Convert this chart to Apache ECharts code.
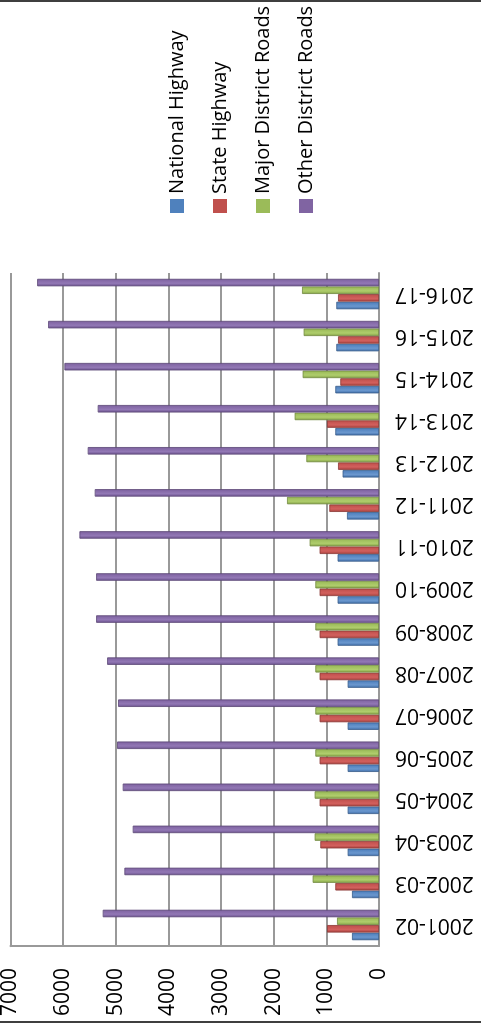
<!DOCTYPE html>
<html>
<head>
<meta charset="utf-8">
<title>Road length by category</title>
<script src="https://cdn.jsdelivr.net/npm/echarts@6/dist/echarts.min.js"></script>
<style>
  html, body {
    margin: 0;
    padding: 0;
    width: 481px;
    height: 1025px;
    overflow: hidden;
    background: #fff;
  }
  .edge {
    position: absolute;
    left: 0;
    width: 481px;
    height: 2px;
    background: #3f3f3f;
  }
  /* chart is drawn as an upright column chart, then turned a quarter to the left */
  #chart {
    position: absolute;
    left: 0;
    top: 0;
    width: 1025px;
    height: 481px;
    transform-origin: 0 0;
    transform: translate(0, 1025px) rotate(-90deg);
  }
</style>
</head>
<body>
<div class="edge" style="top:0"></div>
<div class="edge" style="top:1021px"></div>
<div id="chart"></div>
<script>
const categories = ['2001-02', '2002-03', '2003-04', '2004-05', '2005-06', '2006-07', '2007-08', '2008-09',
  '2009-10', '2010-11', '2011-12', '2012-13', '2013-14', '2014-15', '2015-16', '2016-17'];

const nationalHighway = [513, 513, 595, 595, 595, 595, 595, 786, 786, 786, 608, 691, 830, 830, 811, 811];
const stateHighway = [987, 830, 1115, 1128, 1128, 1128, 1128, 1128, 1128, 1128, 944, 778, 987, 735, 778, 778];
const majorDistrictRoads = [797, 1260, 1222, 1222, 1209, 1209, 1209, 1209, 1209, 1317, 1747, 1380, 1602, 1450, 1431, 1462];
const otherDistrictRoads = [5248, 4836, 4678, 4868, 4975, 4956, 5164, 5373, 5373, 5690, 5400, 5533, 5343, 5975, 6285, 6493];

const axisMin = 0;
const axisMax = 7000;
const axisStep = 1000;

const FONT = "'Open Sans', 'DejaVu Sans', sans-serif";

// name, values, flat colour, shaded colours (edge, highlight, edge), outline
const seriesDefs = [
  ['National Highway', nationalHighway, '#4F81BD', ['#3F6DA8', '#6A97CE', '#4A7CBA'], '#385D8A'],
  ['State Highway', stateHighway, '#C0504D', ['#A8413E', '#D2605D', '#BD4D4A'], '#8C3836'],
  ['Major District Roads', majorDistrictRoads, '#9BBB59', ['#84A346', '#AFCD6C', '#97B755'], '#71893F'],
  ['Other District Roads', otherDistrictRoads, '#8064A2', ['#6A518C', '#9278B5', '#7C609E'], '#5C4776'],
];

const chart = echarts.init(document.getElementById('chart'), null, { renderer: 'canvas' });

const option = {
  animation: false,
  backgroundColor: 'transparent',
  textStyle: { fontFamily: FONT },
  grid: {
    left: 79,
    right: 273,
    top: 10,
    bottom: 102,
  },
  legend: {
    orient: 'vertical',
    left: 807,
    top: 160,
    icon: 'rect',
    itemWidth: 14,
    itemHeight: 14,
    itemGap: 19,
    textStyle: {
      fontFamily: FONT,
      fontSize: 20,
      lineHeight: 24,
      color: '#000',
    },
    data: seriesDefs.map(d => ({ name: d[0], itemStyle: { color: d[2], borderWidth: 0 } })),
  },
  xAxis: {
    type: 'category',
    data: categories,
    axisLine: { show: true, lineStyle: { color: '#999', width: 2 } },
    axisTick: { show: false },
    axisLabel: {
      rotate: 90,
      margin: 16,
      fontSize: 21,
      fontFamily: FONT,
      color: '#000',
    },
    splitLine: { show: false },
  },
  yAxis: {
    type: 'value',
    min: axisMin,
    max: axisMax,
    interval: axisStep,
    axisLine: { show: true, lineStyle: { color: '#999', width: 2 } },
    axisTick: { show: false },
    axisLabel: {
      margin: 22,
      fontSize: 21,
      fontFamily: FONT,
      color: '#000',
      padding: [10, 0, 0, 0],
      formatter: v => String(v),
    },
    splitLine: { show: true, lineStyle: { color: '#999', width: 2 } },
  },
  series: seriesDefs.map(([name, values, flat, shade, edge]) => ({
    name,
    type: 'bar',
    data: values,
    barWidth: 7.5,
    barGap: '2%',
    itemStyle: {
      color: new echarts.graphic.LinearGradient(0, 0, 1, 0, [
        { offset: 0, color: shade[0] },
        { offset: 0.4, color: shade[1] },
        { offset: 1, color: shade[2] },
      ]),
      borderColor: edge,
      borderWidth: 0.8,
    },
  })),
};

chart.setOption(option);
</script>
</body>
</html>
